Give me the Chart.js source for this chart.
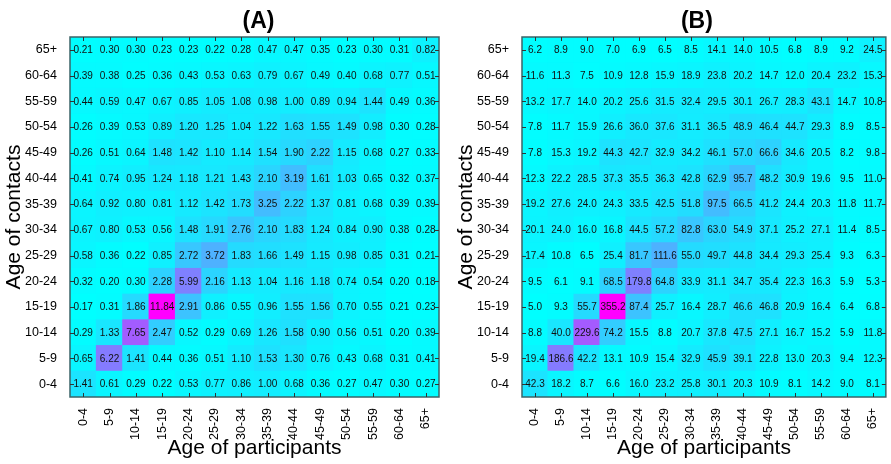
<!DOCTYPE html>
<html>
<head>
<meta charset="utf-8">
<script src="https://cdn.jsdelivr.net/npm/chart.js@4.4.0/dist/chart.umd.min.js"></script>
<style>
  html, body { margin: 0; padding: 0; background: #fff; }
  body { width: 891px; height: 464px; position: relative; overflow: hidden; }
  canvas { position: absolute; top: 0; }
</style>
</head>
<body>
<canvas id="chartA" width="445" height="464" style="left:0"></canvas>
<canvas id="chartB" width="439" height="464" style="left:452px"></canvas>
<script>
// Age groups (same for participants and contacts)
const ageGroups = ['0-4', '5-9', '10-14', '15-19', '20-24', '25-29', '30-34',
    '35-39', '40-44', '45-49', '50-54', '55-59', '60-64', '65+'];

// Panel A - rows as shown, top (65+) to bottom (0-4)
const contactsA = [
    [0.21, 0.30, 0.30, 0.23, 0.23, 0.22, 0.28, 0.47, 0.47, 0.35, 0.23, 0.30, 0.31, 0.82],
    [0.39, 0.38, 0.25, 0.36, 0.43, 0.53, 0.63, 0.79, 0.67, 0.49, 0.40, 0.68, 0.77, 0.51],
    [0.44, 0.59, 0.47, 0.67, 0.85, 1.05, 1.08, 0.98, 1.00, 0.89, 0.94, 1.44, 0.49, 0.36],
    [0.26, 0.39, 0.53, 0.89, 1.20, 1.25, 1.04, 1.22, 1.63, 1.55, 1.49, 0.98, 0.30, 0.28],
    [0.26, 0.51, 0.64, 1.48, 1.42, 1.10, 1.14, 1.54, 1.90, 2.22, 1.15, 0.68, 0.27, 0.33],
    [0.41, 0.74, 0.95, 1.24, 1.18, 1.21, 1.43, 2.10, 3.19, 1.61, 1.03, 0.65, 0.32, 0.37],
    [0.64, 0.92, 0.80, 0.81, 1.12, 1.42, 1.73, 3.25, 2.22, 1.37, 0.81, 0.68, 0.39, 0.39],
    [0.67, 0.80, 0.53, 0.56, 1.48, 1.91, 2.76, 2.10, 1.83, 1.24, 0.84, 0.90, 0.38, 0.28],
    [0.58, 0.36, 0.22, 0.85, 2.72, 3.72, 1.83, 1.66, 1.49, 1.15, 0.98, 0.85, 0.31, 0.21],
    [0.32, 0.20, 0.30, 2.28, 5.99, 2.16, 1.13, 1.04, 1.16, 1.18, 0.74, 0.54, 0.20, 0.18],
    [0.17, 0.31, 1.86, 11.84, 2.91, 0.86, 0.55, 0.96, 1.55, 1.56, 0.70, 0.55, 0.21, 0.23],
    [0.29, 1.33, 7.65, 2.47, 0.52, 0.29, 0.69, 1.26, 1.58, 0.90, 0.56, 0.51, 0.20, 0.39],
    [0.65, 6.22, 1.41, 0.44, 0.36, 0.51, 1.10, 1.53, 1.30, 0.76, 0.43, 0.68, 0.31, 0.41],
    [1.41, 0.61, 0.29, 0.22, 0.53, 0.77, 0.86, 1.00, 0.68, 0.36, 0.27, 0.47, 0.30, 0.27]
];

// Panel B - rows as shown, top (65+) to bottom (0-4)
const contactsB = [
    [6.2, 8.9, 9.0, 7.0, 6.9, 6.5, 8.5, 14.1, 14.0, 10.5, 6.8, 8.9, 9.2, 24.5],
    [11.6, 11.3, 7.5, 10.9, 12.8, 15.9, 18.9, 23.8, 20.2, 14.7, 12.0, 20.4, 23.2, 15.3],
    [13.2, 17.7, 14.0, 20.2, 25.6, 31.5, 32.4, 29.5, 30.1, 26.7, 28.3, 43.1, 14.7, 10.8],
    [7.8, 11.7, 15.9, 26.6, 36.0, 37.6, 31.1, 36.5, 48.9, 46.4, 44.7, 29.3, 8.9, 8.5],
    [7.8, 15.3, 19.2, 44.3, 42.7, 32.9, 34.2, 46.1, 57.0, 66.6, 34.6, 20.5, 8.2, 9.8],
    [12.3, 22.2, 28.5, 37.3, 35.5, 36.3, 42.8, 62.9, 95.7, 48.2, 30.9, 19.6, 9.5, 11.0],
    [19.2, 27.6, 24.0, 24.3, 33.5, 42.5, 51.8, 97.5, 66.5, 41.2, 24.4, 20.3, 11.8, 11.7],
    [20.1, 24.0, 16.0, 16.8, 44.5, 57.2, 82.8, 63.0, 54.9, 37.1, 25.2, 27.1, 11.4, 8.5],
    [17.4, 10.8, 6.5, 25.4, 81.7, 111.6, 55.0, 49.7, 44.8, 34.4, 29.3, 25.4, 9.3, 6.3],
    [9.5, 6.1, 9.1, 68.5, 179.8, 64.8, 33.9, 31.1, 34.7, 35.4, 22.3, 16.3, 5.9, 5.3],
    [5.0, 9.3, 55.7, 355.2, 87.4, 25.7, 16.4, 28.7, 46.6, 46.8, 20.9, 16.4, 6.4, 6.8],
    [8.8, 40.0, 229.6, 74.2, 15.5, 8.8, 20.7, 37.8, 47.5, 27.1, 16.7, 15.2, 5.9, 11.8],
    [19.4, 186.6, 42.2, 13.1, 10.9, 15.4, 32.9, 45.9, 39.1, 22.8, 13.0, 20.3, 9.4, 12.3],
    [42.3, 18.2, 8.7, 6.6, 16.0, 23.2, 25.8, 30.1, 20.3, 10.9, 8.1, 14.2, 9.0, 8.1]
];

const FONT = "'Liberation Sans', Arial, sans-serif";

// matlab "cool" colormap: cyan -> magenta
function coolColor(v, lo, hi) {
    const t = Math.max(0, Math.min(1, (v - lo) / (hi - lo)));
    return 'rgb(' + Math.round(255 * t) + ',' + Math.round(255 * (1 - t)) + ',255)';
}

function makeHeatmap(canvasId, title, rows, decimals, padRight, titleShift) {
    const all = rows.flat();
    const lo = Math.min(...all), hi = Math.max(...all);
    const bottomUp = rows.slice().reverse(); // dataset 0 = contacts 0-4

    const datasets = bottomUp.map((row, i) => ({
        label: ageGroups[i],
        data: row.map(() => 1),
        values: row,
        backgroundColor: row.map(v => coolColor(v, lo, hi)),
        borderWidth: 0,
        barPercentage: 1,
        categoryPercentage: 1,
        inflateAmount: 0.5
    }));

    const overlay = {
        id: 'overlay',
        afterDatasetsDraw(chart) {
            const ctx = chart.ctx;
            const area = chart.chartArea;
            const xs = chart.scales.x, ys = chart.scales.y;
            ctx.save();
            // cell values
            ctx.fillStyle = '#111';
            ctx.font = '10px ' + FONT;
            ctx.textAlign = 'center';
            ctx.textBaseline = 'middle';
            chart.data.datasets.forEach((ds, i) => {
                chart.getDatasetMeta(i).data.forEach((bar, j) => {
                    ctx.fillText(ds.values[j].toFixed(decimals), bar.x, (bar.y + bar.base) / 2 + 0.5);
                });
            });
            // frame
            ctx.strokeStyle = '#3b6468';
            ctx.lineWidth = 1.5;
            ctx.strokeRect(area.left, area.top, area.right - area.left, area.bottom - area.top);
            // inward tick marks
            ctx.lineWidth = 1;
            ctx.strokeStyle = '#333';
            ctx.beginPath();
            xs.ticks.forEach((t, k) => {
                const px = Math.round(xs.getPixelForTick(k)) + 0.5;
                ctx.moveTo(px, area.top); ctx.lineTo(px, area.top + 4);
                ctx.moveTo(px, area.bottom); ctx.lineTo(px, area.bottom - 4);
            });
            ys.ticks.forEach(t => {
                const py = Math.round(ys.getPixelForValue(t.value)) + 0.5;
                ctx.moveTo(area.left, py); ctx.lineTo(area.left + 4, py);
                ctx.moveTo(area.right, py); ctx.lineTo(area.right - 4, py);
            });
            ctx.stroke();
            // panel title
            ctx.fillStyle = '#000';
            ctx.font = 'bold 23px ' + FONT;
            ctx.fillText(title, (area.left + area.right) / 2 + titleShift, 22);
            ctx.restore();
        }
    };

    return new Chart(document.getElementById(canvasId).getContext('2d'), {
        type: 'bar',
        data: { labels: ageGroups, datasets: datasets },
        options: {
            responsive: false,
            animation: false,
            layout: { padding: { top: 37, right: padRight, left: 0, bottom: 0 } },
            plugins: { legend: { display: false }, tooltip: { enabled: false } },
            scales: {
                x: {
                    stacked: true,
                    grid: { display: false },
                    border: { display: false },
                    ticks: {
                        color: '#000', font: { size: 12.5, family: FONT },
                        minRotation: 90, maxRotation: 90, autoSkip: false, padding: 3
                    },
                    title: {
                        display: true, text: 'Age of participants', color: '#000',
                        font: { size: 21, family: FONT }, padding: { top: 0, bottom: 3 }
                    },
                    afterFit: s => { s.height = 67; }
                },
                y: {
                    stacked: true,
                    min: 0, max: ageGroups.length,
                    grid: { display: false },
                    border: { display: false },
                    afterBuildTicks: s => { s.ticks = ageGroups.map((_, i) => ({ value: i + 0.5 })); },
                    ticks: {
                        color: '#000', font: { size: 12.5, family: FONT }, padding: 5,
                        callback: v => ageGroups[Math.floor(v)]
                    },
                    title: {
                        display: true, text: 'Age of contacts', color: '#000',
                        font: { size: 21, family: FONT }, padding: { top: 2, bottom: 0 }
                    },
                    afterFit: s => { s.width = 70; }
                }
            }
        },
        plugins: [overlay]
    });
}

makeHeatmap('chartA', '(A)', contactsA, 2, 6, 4);
makeHeatmap('chartB', '(B)', contactsB, 1, 4, -7);
</script>
</body>
</html>
